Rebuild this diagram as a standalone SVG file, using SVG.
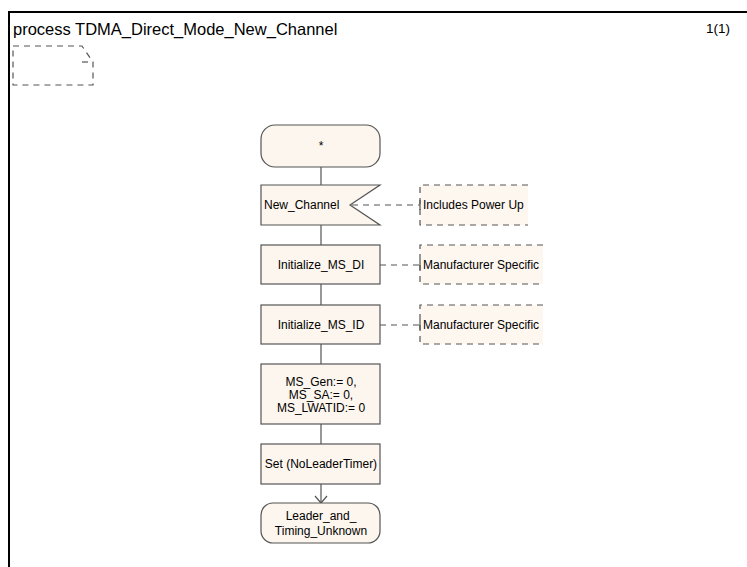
<svg xmlns="http://www.w3.org/2000/svg" width="747" height="567" viewBox="0 0 747 567">
<style>
.t{font-family:"Liberation Sans",Arial,sans-serif;font-size:12px;fill:#000;text-anchor:middle}
.s{font-family:"Liberation Sans",Arial,sans-serif;font-size:12px;fill:#000;text-anchor:start}
.h{font-family:"Liberation Sans",Arial,sans-serif;fill:#000}
.n{fill:#fdf6ee;stroke:#555;stroke-width:1.2}
.c{fill:#fdf7f0;stroke:none}
.d{fill:none;stroke:#555;stroke-width:1.2;stroke-dasharray:6,5}
.l{fill:none;stroke:#555;stroke-width:1.2}
</style>
<rect x="0" y="0" width="747" height="567" fill="#fff"/>
<g id="frame">
<path d="M9,567 V12 H747" fill="none" stroke="#000" stroke-width="2"/>
<text class="h" x="13" y="35" font-size="16.5">process TDMA_Direct_Mode_New_Channel</text>
<text class="h" x="730" y="33" font-size="13.5" text-anchor="end">1(1)</text>
<path class="d" d="M13,46 H82 L93,62 V85 H13 Z"/>
<path class="d" d="M82,62 H93"/>
</g>
<g id="connectors">
<path class="l" d="M321,167 V185 M321,225 V245 M321,284 V305 M321,344 V364 M321,424 V444 M321,484 V502"/>
<path class="l" d="M315,496 L321,503 L327,496"/>
<path class="d" d="M352,205 H420"/>
<path class="d" d="M380,265 H420"/>
<path class="d" d="M380,325 H420"/>
</g>
<g id="start">
<rect class="n" x="261" y="125" width="119" height="42" rx="14"/>
<text class="t" x="321" y="150">*</text>
</g>
<g id="new_channel">
<path class="n" d="M261,185 H380 L350,205 L380,225 H261 Z"/>
<text class="s" x="264" y="209">New_Channel</text>
</g>
<g id="comment1">
<rect class="c" x="420" y="185" width="108" height="40"/>
<path class="d" d="M528,185 H420 V225 H528"/>
<path class="l" d="M420,200 V210"/>
<text class="s" x="423" y="209">Includes Power Up</text>
</g>
<g id="init_di">
<rect class="n" x="261" y="245" width="119" height="39"/>
<text class="t" x="321" y="269">Initialize_MS_DI</text>
</g>
<g id="comment2">
<rect class="c" x="420" y="245" width="123" height="39"/>
<path class="d" d="M543,245 H420 V284 H543"/>
<path class="l" d="M420,260 V270"/>
<text class="s" x="423" y="269">Manufacturer Specific</text>
</g>
<g id="init_id">
<rect class="n" x="261" y="305" width="119" height="39"/>
<text class="t" x="321" y="329">Initialize_MS_ID</text>
</g>
<g id="comment3">
<rect class="c" x="420" y="305" width="123" height="39"/>
<path class="d" d="M543,305 H420 V344 H543"/>
<path class="l" d="M420,320 V330"/>
<text class="s" x="423" y="329">Manufacturer Specific</text>
</g>
<g id="assign">
<rect class="n" x="261" y="364" width="119" height="60"/>
<text class="t" x="321" y="386">MS_Gen:= 0,</text>
<text class="t" x="321" y="399">MS_SA:= 0,</text>
<text class="t" x="321" y="412">MS_LWATID:= 0</text>
</g>
<g id="set_timer">
<rect class="n" x="261" y="444" width="119" height="40"/>
<text class="t" x="321" y="468">Set (NoLeaderTimer)</text>
</g>
<g id="next_state">
<rect class="n" x="261" y="503" width="119" height="40" rx="12"/>
<text class="t" x="321" y="520">Leader_and_</text>
<text class="t" x="321" y="535">Timing_Unknown</text>
</g>
</svg>
